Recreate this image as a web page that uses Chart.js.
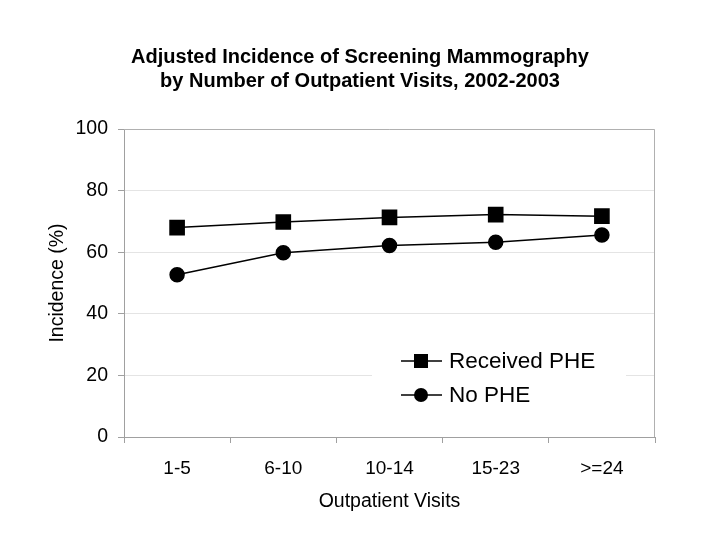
<!DOCTYPE html>
<html>
<head>
<meta charset="utf-8">
<script src="https://cdn.jsdelivr.net/npm/chart.js@4"></script>
<style>
  html, body { margin: 0; padding: 0; background: #fff; }
  #wrap { width: 720px; height: 540px; }
</style>
</head>
<body>
<div id="wrap"><canvas id="chart" width="720" height="540"></canvas></div>
<script>
// data
const visits = ["1-5", "6-10", "10-14", "15-23", ">=24"];
const receivedPHE = [68.0, 69.8, 71.3, 72.2, 71.7];
const noPHE = [52.7, 59.8, 62.2, 63.2, 65.6];
const yTicks = [0, 20, 40, 60, 80, 100];

const FONT = "'Liberation Sans', Arial, sans-serif";

// legend drawn inside the plot, like the original
const insideLegend = {
    id: "insideLegend",
    afterDatasetsDraw(chart) {
        const ctx = chart.ctx;
        const items = chart.data.datasets;
        ctx.save();
        ctx.fillStyle = "#fff";
        ctx.fillRect(372, 340, 254, 72);
        ctx.font = "22.5px " + FONT;
        ctx.textBaseline = "middle";
        items.forEach((ds, i) => {
            const y = 361 + i * 34;
            ctx.strokeStyle = "#000";
            ctx.lineWidth = 1.5;
            ctx.beginPath();
            ctx.moveTo(401, y);
            ctx.lineTo(442, y);
            ctx.stroke();
            ctx.fillStyle = "#000";
            if (ds.pointStyle === "rect") {
                ctx.fillRect(414, y - 7, 14, 14);
            } else {
                ctx.beginPath();
                ctx.arc(421, y, 7, 0, Math.PI * 2);
                ctx.fill();
            }
            ctx.fillText(ds.label, 449, y + 1);
        });
        ctx.restore();
    }
};

// thin gray frame on right side and top of the plot area
const frame = {
    id: "frame",
    beforeDatasetsDraw(chart) {
        const a = chart.chartArea;
        const ctx = chart.ctx;
        ctx.save();
        ctx.strokeStyle = "#b0b0b0";
        ctx.lineWidth = 1;
        ctx.beginPath();
        ctx.moveTo(a.left, a.top + 0.5);
        ctx.lineTo(a.right - 0.5, a.top + 0.5);
        ctx.lineTo(a.right - 0.5, a.bottom);
        ctx.stroke();
        ctx.restore();
    }
};

new Chart(document.getElementById("chart").getContext("2d"), {
    type: "line",
    data: {
        labels: visits,
        datasets: [{
            label: "Received PHE",
            data: receivedPHE,
            borderColor: "#000",
            backgroundColor: "#000",
            borderWidth: 1.5,
            pointStyle: "rect",
            pointRadius: 10,
            pointHoverRadius: 10,
            tension: 0
        }, {
            label: "No PHE",
            data: noPHE,
            borderColor: "#000",
            backgroundColor: "#000",
            borderWidth: 1.5,
            pointStyle: "circle",
            pointRadius: 7,
            pointHoverRadius: 7,
            tension: 0
        }]
    },
    options: {
        responsive: false,
        animation: false,
        layout: { padding: { left: 20, right: 20, top: 0, bottom: 20 } },
        plugins: {
            legend: { display: false },
            tooltip: { enabled: false },
            title: {
                display: true,
                text: ["Adjusted Incidence of Screening Mammography",
                       "by Number of Outpatient Visits, 2002-2003"],
                color: "#000",
                font: { family: FONT, size: 20, weight: "bold", lineHeight: 1.2 },
                padding: { top: 45, bottom: 36 }
            }
        },
        scales: {
            x: {
                offset: true,
                afterFit(axis) { axis.height = 83; },
                grid: {
                    offset: true,
                    drawOnChartArea: false,
                    color: "#a0a0a0",
                    tickLength: 6
                },
                border: { color: "#a0a0a0" },
                ticks: { color: "#000", font: { family: FONT, size: 19 }, padding: 14 },
                title: {
                    display: true,
                    text: "Outpatient Visits",
                    color: "#000",
                    font: { family: FONT, size: 19.5 },
                    padding: { top: 0, bottom: 7 }
                }
            },
            y: {
                min: 0,
                max: 100,
                afterFit(axis) { axis.width = 104; },
                afterBuildTicks(axis) {
                    axis.ticks = yTicks.map(v => ({ value: v }));
                },
                grid: {
                    color: "#e4e4e4",
                    tickColor: "#a0a0a0",
                    tickLength: 6
                },
                border: { color: "#a0a0a0" },
                ticks: { color: "#000", font: { family: FONT, size: 19.5 }, padding: 10 },
                title: {
                    display: true,
                    text: "Incidence (%)",
                    color: "#000",
                    font: { family: FONT, size: 19.5 },
                    padding: { top: 26, bottom: 0 }
                }
            },
            // empty right-hand axis that only reserves space so the plot ends where the original does
            yRight: {
                position: "right",
                display: true,
                afterFit(axis) { axis.width = 45; },
                grid: { drawOnChartArea: false, drawTicks: false },
                border: { display: false },
                ticks: { display: false }
            }
        }
    },
    plugins: [frame, insideLegend]
});
</script>
</body>
</html>
